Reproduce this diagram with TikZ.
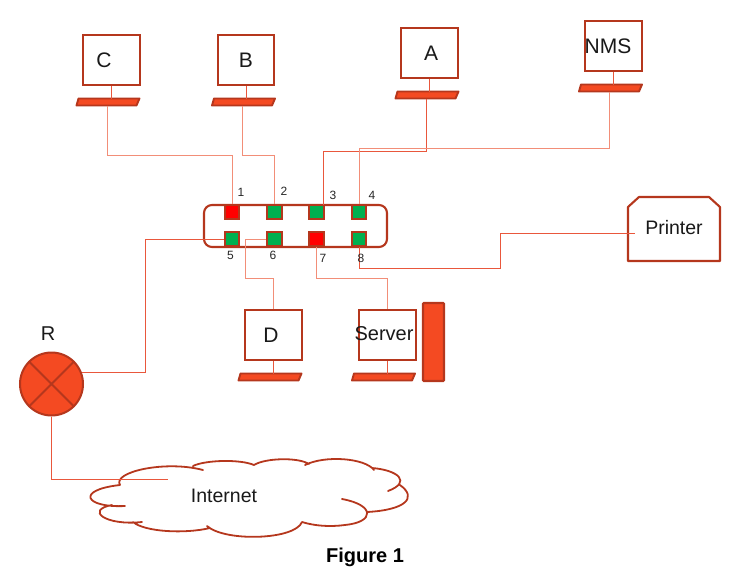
\documentclass[tikz,border=0pt]{standalone}
\usepackage{fontspec}
\setmainfont{Liberation Sans}
\definecolor{edgered}{HTML}{B5371D}
\definecolor{fillred}{HTML}{F44A22}
\definecolor{wirered}{HTML}{E9573C}
\definecolor{wirepale}{HTML}{F28E78}
\definecolor{portgreen}{HTML}{00B050}
\tikzset{
  screen/.style={draw=edgered,line width=2.1pt,fill=white,minimum width=56.5pt,minimum height=50pt,inner sep=0pt},
  pad/.style={minimum width=63pt,minimum height=7pt,inner sep=0pt,outer sep=0pt},
  padbody/.style={draw=edgered,line width=1.9pt,fill=fillred,line join=round},
  port/.style={draw=edgered,line width=1.7pt,minimum size=14.6pt,inner sep=0pt},
  okport/.style={port,fill=portgreen},
  badport/.style={port,fill=red},
  wire/.style={draw=wirered,line width=.8pt},
  palewire/.style={draw=wirepale,line width=.9pt},
  stem/.style={draw=wirered,line width=1pt},
  cloudline/.style={draw=edgered,line width=1.8pt,line cap=round},
  caption/.style={font=\fontsize{21}{24}\selectfont,text=black!90,inner sep=0pt},
  portnum/.style={font=\fontsize{12}{14}\selectfont,text=black!85,inner sep=0pt}
}
\begin{document}
\begin{tikzpicture}[x=1pt,y=-1pt]
\useasboundingbox (0,0) rectangle (737,570);

% workstations: screen and keyboard
\node[screen] (scrC) at (111.5,60) {};
\node[pad] (padC) at (107,102) {};
\node[screen] (scrB) at (246,60) {};
\node[pad] (padB) at (242.5,102) {};
\node[screen] (scrA) at (429.5,53) {};
\node[pad] (padA) at (426,95) {};
\node[screen] (scrN) at (613.5,46) {};
\node[pad] (padN) at (609.5,88) {};
\node[screen] (scrD) at (273.5,335) {};
\node[pad] (padD) at (269,377) {};
\node[screen] (scrS) at (387.5,335) {};
\node[pad] (padS) at (382.5,377) {};
\node[draw=edgered,line width=2.1pt,fill=fillred,minimum width=21pt,minimum height=78pt,inner sep=0pt,rounded corners=.8pt] (tower) at (433.5,342) {};

% each keyboard is a slanted bar under its screen, joined by a short stem
\foreach \s/\k in {scrC/padC,scrB/padB,scrA/padA,scrN/padN,scrD/padD,scrS/padS}{
  \draw[padbody] ([xshift=1pt]\k.south west) -- ([xshift=3pt]\k.north west) -- ([xshift=1pt]\k.north east) -- ([xshift=-2pt]\k.south east) -- cycle;
  \draw[stem] (\s.south) -- (\s.south |- \k.north);
}

% switch with its eight ports
\node[draw=edgered,line width=2.1pt,fill=white,rounded corners=8pt,minimum width=183pt,minimum height=42pt,inner sep=0pt] (switch) at (295.5,226) {};
\node[badport] (p1) at (232,212) {};
\node[okport] (p2) at (274.5,212) {};
\node[okport] (p3) at (316.5,212) {};
\node[okport] (p4) at (359,212) {};
\node[okport] (p5) at (232,239) {};
\node[okport] (p6) at (274.5,239) {};
\node[badport] (p7) at (316.5,239) {};
\node[okport] (p8) at (359,239) {};

% printer outline with its two cut top corners, and the router
\node[minimum width=92pt,minimum height=64pt,inner sep=0pt,outer sep=0pt] (printer) at (674,229) {};
\draw[edgered,line width=2.1pt,line join=round,fill=white]
  (printer.south west) -- ([yshift=-10pt]printer.north west) -- ([xshift=11pt]printer.north west)
  -- ([xshift=-11pt]printer.north east) -- ([yshift=-10pt]printer.north east) -- (printer.south east) -- cycle;
\node[circle,draw=edgered,line width=2pt,fill=fillred,minimum size=63pt,inner sep=0pt] (router) at (51.5,384) {};
\draw[edgered,line width=1.9pt] (router.45) -- (router.225) (router.135) -- (router.315);

% internet cloud, built from open arcs
\draw[cloudline]
  (120,485) .. controls (112,472) and (165,460) .. (203,470)
  (193,466) .. controls (205,460) and (240,459) .. (254,465)
  (254,465) .. controls (265,458) and (298,457) .. (309,464)
  (305,465) .. controls (325,455) and (365,458) .. (374,470)
  (372,468) .. controls (398,470) and (412,482) .. (388,491)
  (400,485) .. controls (418,498) and (405,510) .. (367,512)
  (342,499) .. controls (375,505) and (375,522) .. (345,525)
  (345,525) .. controls (330,527) and (315,526) .. (302,522)
  (302,522) .. controls (295,540) and (225,542) .. (207,526)
  (210,528) .. controls (185,534) and (145,532) .. (133,522)
  (142,522) .. controls (105,526) and (85,510) .. (112,505)
  (125,506) .. controls (85,508) and (75,490) .. (120,485);
\coordinate (cloudin) at (168,479);
\coordinate (printerin) at (635,233);
\coordinate (routertap) at (145,372);

% cabling from the stations down to the switch ports
\draw[palewire] (padC.south) |- (232,155) -- (p1.north);
\draw[palewire] (padB.south) |- (274.5,155) -- (p2.north);
\draw[wire] (padA.south) |- (323,151) -- (323,205);
\draw[palewire] (padN.south) |- (359,148) -- (p4.north);
\draw[wire] (p5.west) -| (routertap) -- (routertap -| router.22);
\draw[palewire] (p6.west) -- (245,239) -- (245,278) -- (273.5,278) -- (scrD.north);
\draw[palewire] (p7.south) -- (316.5,278) -- (387.5,278) -- (scrS.north);
\draw[wire] (p8.south) -- (359,268) -- (500,268) -- (500,233) -- (printerin);
\draw[wire] (router.south) -- (51.5,479) -- (cloudin);

% labels
\node[caption] (lC) at (104,60.5) {C};
\node[caption] (lB) at (246,60.5) {B};
\node[caption] (lA) at (431,53) {A};
\node[caption] (lN) at (608,46.5) {NMS};
\node[caption] (lD) at (271,335.5) {D};
\node[caption,font=\fontsize{20}{24}\selectfont] (lS) at (384,333.5) {Server};
\node[caption,font=\fontsize{20}{24}\selectfont] (lR) at (48,333.5) {R};
\node[caption,font=\fontsize{19.5}{24}\selectfont] (lI) at (224,495.5) {Internet};
\node[caption,font=\fontsize{19.5}{24}\selectfont] (lP) at (674,227.5) {Printer};
\node[caption,font=\fontsize{20}{24}\selectfont\bfseries,text=black] (fig) at (365,557) {Figure 1};
\node[portnum] (n1) at (241,192) {1};
\node[portnum] (n2) at (284,191.5) {2};
\node[portnum] (n3) at (333,195) {3};
\node[portnum] (n4) at (372,195) {4};
\node[portnum] (n5) at (230.5,255.5) {5};
\node[portnum] (n6) at (273,255.5) {6};
\node[portnum] (n7) at (323,258) {7};
\node[portnum] (n8) at (361,258.5) {8};
\end{tikzpicture}
\end{document}
